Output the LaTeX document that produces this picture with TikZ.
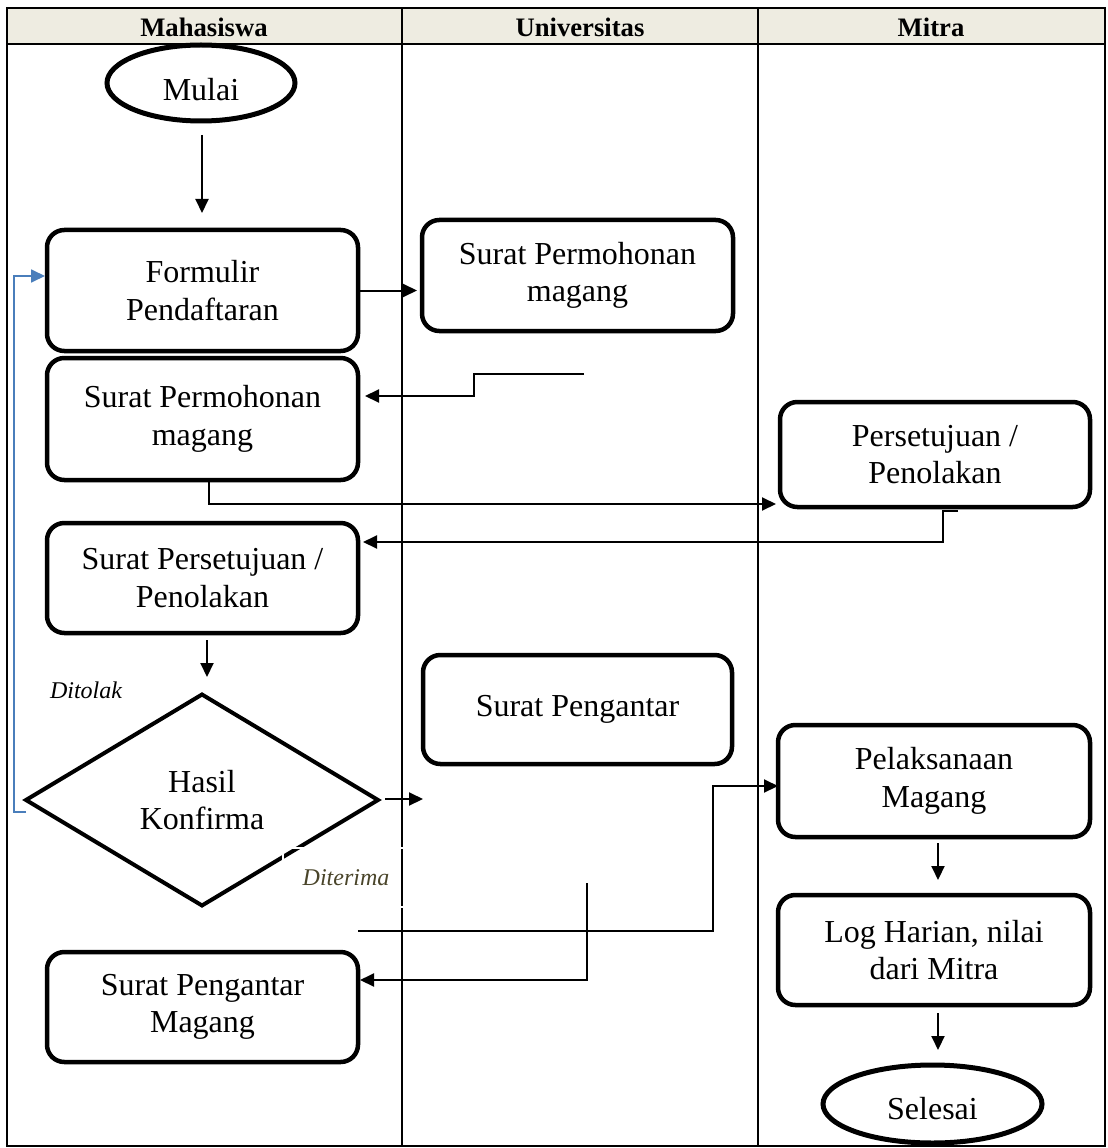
\documentclass[tikz,border=0pt]{standalone}
\usepackage{fontspec}
\setmainfont{Liberation Serif}
\usetikzlibrary{shapes.geometric,arrows.meta,calc}

\newdimen\pxu \pxu=0.75pt
\newcommand\flowfont{\fontsize{24}{28}\selectfont}
\newcommand\lowered[2]{\raisebox{-#1}[\height][0pt]{#2}}
\definecolor{hdrfill}{HTML}{EEECE1}
\definecolor{fbblue}{HTML}{4A7EBB}
\definecolor{accepttext}{HTML}{4A452A}

\begin{document}
\begin{tikzpicture}[x=0.75pt,y=-0.75pt,
  lane/.style={line width=2\pxu},
  hdr/.style={font=\bfseries\fontsize{20}{22}\selectfont, inner sep=0pt},
  box/.style={draw, line width=4.5\pxu, rounded corners=13pt, align=center,
    inner sep=0pt, outer sep=0pt, font=\flowfont},
  term/.style={draw, ellipse, line width=5\pxu, inner sep=0pt, outer sep=0pt,
    font=\flowfont},
  dec/.style={draw, diamond, line width=4\pxu, inner sep=0pt, outer sep=0pt,
    align=center, font=\flowfont},
  lbl/.style={font=\itshape\fontsize{18}{20}\selectfont, inner sep=0pt},
  arr/.style={line width=2\pxu, -{Triangle[length=10.5pt,width=9.75pt]}},
  fb/.style={draw=fbblue, line width=1.8\pxu, -{Triangle[length=10.5pt,width=9.75pt]}}]

\useasboundingbox (0,0) rectangle (1107,1148);

% swimlane frame
\fill[hdrfill] (7,8) rectangle (1105,44);
\draw[lane] (7,8) rectangle (1105,1146);
\draw[lane] (7,44) -- (1105,44);
\draw[lane] (402,8) -- (402,1146);
\draw[lane] (758,8) -- (758,1146);
\node[hdr] (hMhs) at (204,27) {Mahasiswa};
\node[hdr] (hUniv) at (580,27) {Universitas};
\node[hdr] (hMitra) at (931,27) {Mitra};

% flow elements
\node[term, minimum width=188\pxu, minimum height=76\pxu] (mulai) at (201,83) {\lowered{5pt}{Mulai}};
\node[box, minimum width=311\pxu, minimum height=121\pxu] (form) at (202.5,290.5) {Formulir\\Pendaftaran};
\node[box, minimum width=311\pxu, minimum height=111\pxu] (spmU) at (577.5,275.5) {Surat Permohonan\\magang};
\node[box, minimum width=311\pxu, minimum height=122\pxu] (spmL) at (202.5,419) {Surat Permohonan\\magang};
\node[box, minimum width=310\pxu, minimum height=105\pxu] (setuju) at (935,454.5) {Persetujuan /\\Penolakan};
\node[box, minimum width=311\pxu, minimum height=110\pxu] (ssp) at (202.5,578) {Surat Persetujuan /\\Penolakan};
\node[dec, minimum width=352\pxu, minimum height=211\pxu] (dia) at (202,800) {Hasil\\Konfirma};
\node[box, minimum width=309\pxu, minimum height=109\pxu] (peng) at (577.5,709.5) {Surat Pengantar};
\node[box, minimum width=311\pxu, minimum height=110\pxu] (spm2) at (202.5,1007) {Surat Pengantar\\Magang};
\node[box, minimum width=312\pxu, minimum height=112\pxu] (pel) at (934,781) {Pelaksanaan\\Magang};
\node[box, minimum width=312\pxu, minimum height=110\pxu] (log) at (934,950) {Log Harian, nilai\\dari Mitra};
\node[term, minimum width=219\pxu, minimum height=78\pxu] (sel) at (932.5,1104) {\lowered{3pt}{Selesai}};

% decision labels
\node[lbl] (ditolak) at (86,690) {Ditolak};
\node[lbl, text=accepttext, draw=white, line width=2\pxu, minimum width=126\pxu,
  minimum height=59\pxu] (diterima) at (346,877.5) {Diterima};

% connectors
\coordinate (c1) at (584,374);
\coordinate (c2) at (358,931);
\coordinate (c3) at (587,883);

\draw[arr] ($(mulai.south)+(1,14)$) -- ($(form.north)+(-0.5,-17)$);
\draw[arr] (form.east) -- ($(form.east -| spmU.west)+(-5,0)$);
\draw[arr] (c1) -- ++(-110,0) |- ($(spmL.east)+(7,-23)$);
\draw[arr] ($(spmL.south)+(6.5,0)$) |- ($(setuju.west)+(-4,49.5)$);
\draw[arr] ($(setuju.south)+(23,4)$) -- ++(-15,0) |- ($(ssp.east)+(5,-36)$);
\draw[arr] ($(ssp.south)+(4.5,7)$) -- ++(0,37);
\draw[fb] ($(dia.west)+(0,12)$) -- ++(-12,0) |- ($(form.west)+(-2,-14.5)$);
\draw[arr] ($(dia.east)+(7,-1)$) -- ++(38,0);
\draw[arr] (c2) -- ++(355,0) |- ($(pel.west)+(0,5)$);
\draw[arr] (c3) |- ($(spm2.east)+(2,-27)$);
\draw[arr] ($(pel.south)+(4,6)$) -- ++(0,37);
\draw[arr] ($(log.south)+(4,8)$) -- ++(0,37);

\end{tikzpicture}
\end{document}
